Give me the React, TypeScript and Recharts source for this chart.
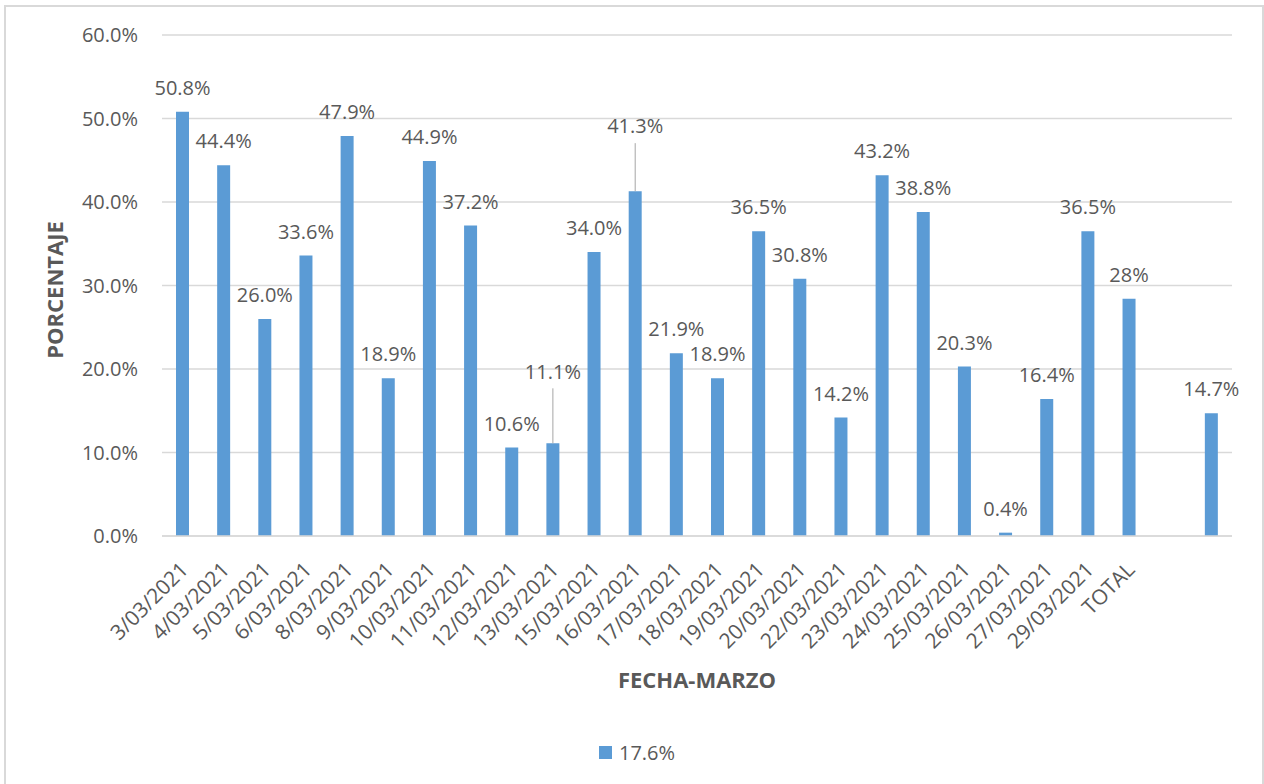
import React from 'react';
import { BarChart, Bar, XAxis, YAxis, CartesianGrid, Legend, LabelList, Label } from 'recharts';

const fechas = [
  '3/03/2021', '4/03/2021', '5/03/2021', '6/03/2021', '8/03/2021', '9/03/2021',
  '10/03/2021', '11/03/2021', '12/03/2021', '13/03/2021', '15/03/2021', '16/03/2021',
  '17/03/2021', '18/03/2021', '19/03/2021', '20/03/2021', '22/03/2021', '23/03/2021',
  '24/03/2021', '25/03/2021', '26/03/2021', '27/03/2021', '29/03/2021', 'TOTAL', '', '',
];
const porcentajes: (number | null)[] = [
  50.8, 44.4, 26.0, 33.6, 47.9, 18.9, 44.9, 37.2, 10.6, 11.1, 34.0, 41.3, 21.9,
  18.9, 36.5, 30.8, 14.2, 43.2, 38.8, 20.3, 0.4, 16.4, 36.5, 28.4, null, 14.7,
];
const yTicks = [0, 10, 20, 30, 40, 50, 60];
const serieNombre = '17.6%';

const data = fechas.map((fecha, i) => ({ fecha, valor: porcentajes[i] }));

const FONT = '"Open Sans", sans-serif';
const GRIS = '#595959';
const AZUL = '#5B9BD5';
const PLOT_BOTTOM = 536;

// labels pulled up higher than usual, drawn with a leader line
const labelLift: Record<number, number> = { 9: 72, 11: 65 };

const fmt = (v: number, i: number) => (fechas[i] === 'TOTAL' ? `${v.toFixed(0)}%` : `${v.toFixed(1)}%`);

const DataLabel = (props: any) => {
  const { x, y, width, value, index } = props;
  if (value == null) return null;
  const cx = Number(x) + Number(width) / 2;
  const top = Number(y);
  const lift = labelLift[index] ?? 24;
  const cy = top - lift;
  return (
    <g>
      {labelLift[index] != null && (
        <line x1={cx} x2={cx} y1={cy + 17} y2={top} stroke="#A6A6A6" strokeWidth={1} />
      )}
      <text x={cx} y={cy} dy="0.36em" textAnchor="middle" fill={GRIS} fontSize={20} fontFamily={FONT}>
        {fmt(Number(value), index)}
      </text>
    </g>
  );
};

const FechaTick = (props: any) => {
  const { x, payload } = props;
  return (
    <g transform={`translate(${x + 7},${PLOT_BOTTOM + 35}) rotate(-45)`}>
      <text x={0} y={0} textAnchor="end" fill={GRIS} fontSize={21} fontFamily={FONT}>
        {payload.value}
      </text>
    </g>
  );
};

const LeyendaSerie = () => (
  <div style={{ display: 'flex', alignItems: 'center', justifyContent: 'center', fontFamily: FONT, fontSize: 20, color: GRIS }}>
    <span style={{ width: 13, height: 13, background: AZUL, display: 'inline-block', marginRight: 7 }} />
    <span>{serieNombre}</span>
  </div>
);

export default function App() {
  return (
    <div style={{ position: 'absolute', left: 0, top: 0, width: 1264, height: 784, overflow: 'hidden', background: '#fff' }}>
      <div style={{ position: 'absolute', left: 4, top: 5, width: 1256, height: 800, border: '2px solid #D9D9D9' }} />
      <div style={{ position: 'absolute', left: 0, top: 0 }}>
        <BarChart width={1264} height={784} data={data} margin={{ top: 35, right: 32, left: 52, bottom: 78 }}>
          <CartesianGrid vertical={false} stroke="#D9D9D9" strokeWidth={1.5} />
          <XAxis
            dataKey="fecha"
            interval={0}
            height={170}
            tickLine={false}
            axisLine={{ stroke: '#D9D9D9', strokeWidth: 1.5 }}
            tick={<FechaTick />}
          >
            <Label
              content={(p: any) => (
                <text x={p.viewBox.x + p.viewBox.width / 2} y={680} dy="0.36em" textAnchor="middle"
                  fill={GRIS} fontSize={22} fontWeight={700} fontFamily={FONT}>
                  FECHA-MARZO
                </text>
              )}
            />
          </XAxis>
          <YAxis
            width={110}
            domain={[0, 60]}
            ticks={yTicks}
            axisLine={false}
            tickLine={false}
            tickSize={8}
            tickMargin={16}
            tickFormatter={(v: number) => `${v.toFixed(1)}%`}
            tick={{ fill: GRIS, fontSize: 20, fontFamily: FONT }}
          >
            <Label
              content={(p: any) => (
                <text x={0} y={0} transform={`translate(${p.viewBox.x + 3},290) rotate(-90)`} dy="0.36em"
                  textAnchor="middle" fill={GRIS} fontSize={22} fontWeight={700} fontFamily={FONT}>
                  PORCENTAJE
                </text>
              )}
            />
          </YAxis>
          <Legend
            verticalAlign="middle"
            align="center"
            layout="horizontal"
            content={<LeyendaSerie />}
            wrapperStyle={{ top: 739, left: 0, width: 1274 }}
          />
          <Bar dataKey="valor" name={serieNombre} fill={AZUL} barSize={13} isAnimationActive={false}>
            <LabelList dataKey="valor" content={<DataLabel />} />
          </Bar>
        </BarChart>
      </div>
    </div>
  );
}
